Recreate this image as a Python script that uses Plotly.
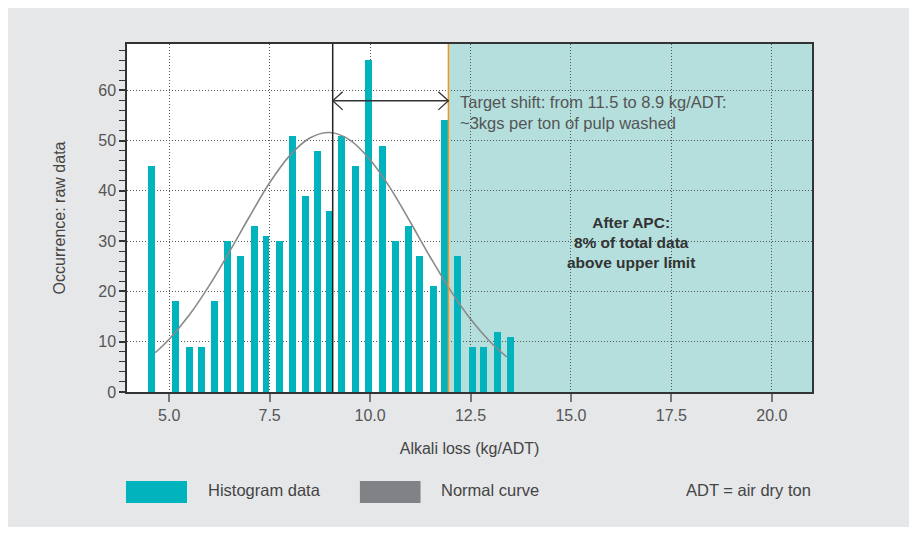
import plotly.graph_objects as go

# ---------------------------
# Datos
# ---------------------------
alkali_loss = [4.56, 5.16, 5.50, 5.80, 6.13, 6.45, 6.77, 7.12, 7.41, 7.74,
               8.07, 8.39, 8.69, 8.99, 9.29, 9.63, 9.96, 10.31, 10.63, 10.95,
               11.23, 11.57, 11.85, 12.18, 12.54, 12.82, 13.17, 13.49]
occurrence = [45, 18, 9, 9, 18, 30, 27, 33, 31, 30,
              51, 39, 48, 36, 51, 45, 66, 49, 30, 33,
              27, 21, 54, 27, 9, 9, 12, 11]

curve_x = [4.65, 5.0, 5.5, 6.0, 6.5, 7.0, 7.5, 8.0, 8.5, 9.0,
           9.5, 10.0, 10.5, 11.0, 11.5, 12.0, 12.5, 13.0, 13.4]
curve_y = [7.8, 10.5, 15.3, 21.2, 27.9, 34.9, 41.6, 47.0, 50.5, 51.6,
           50.1, 46.2, 40.6, 33.8, 26.8, 20.2, 14.5, 9.9, 7.0]

target_line = 9.07   # línea negra (objetivo)
upper_limit = 11.95  # línea naranja (límite superior)
x_max = 21.0
arrow_y = 57.9

x_ticks = [5.0, 7.5, 10.0, 12.5, 15.0, 17.5, 20.0]

TEAL = "#00b3bc"
SHADE = "#b4dfdd"
GREY_BG = "#e6e7e9"
FONT = "Liberation Sans"

fig = go.Figure()

fig.add_trace(go.Bar(
    x=alkali_loss, y=occurrence, width=0.17,
    marker=dict(color=TEAL, line=dict(width=0)),
    showlegend=False, hoverinfo="x+y",
))
fig.add_trace(go.Scatter(
    x=curve_x, y=curve_y, mode="lines", line_shape="spline",
    line=dict(color="#8a8a8a", width=1.6),
    showlegend=False, hoverinfo="skip",
))

# Fondo gris, área blanca y zona sombreada
shapes = [
    dict(type="rect", xref="paper", yref="paper", x0=-0.3, x1=1.3,
         y0=-0.388, y1=1.3, fillcolor=GREY_BG, line_width=0, layer="below"),
    dict(type="rect", xref="paper", yref="paper", x0=0, x1=1, y0=0, y1=1,
         fillcolor="white", line_width=0, layer="below"),
    dict(type="rect", xref="x", yref="paper", x0=upper_limit, x1=x_max,
         y0=0, y1=1, fillcolor=SHADE, line_width=0, layer="below"),
    dict(type="line", xref="x", yref="paper", x0=target_line, x1=target_line,
         y0=0, y1=1, line=dict(color="#222222", width=1.5)),
    dict(type="line", xref="x", yref="paper", x0=upper_limit, x1=upper_limit,
         y0=0, y1=1, line=dict(color="#f7941d", width=1.5)),
    # flecha doble
    dict(type="line", xref="x", yref="y", x0=target_line, x1=upper_limit,
         y0=arrow_y, y1=arrow_y, line=dict(color="#333333", width=1.5)),
    dict(type="path", xref="x", yref="y",
         path=f"M {target_line + 0.25},{arrow_y + 1.8} L {target_line},{arrow_y} L {target_line + 0.25},{arrow_y - 1.8}",
         line=dict(color="#333333", width=1.3)),
    dict(type="path", xref="x", yref="y",
         path=f"M {upper_limit - 0.25},{arrow_y + 1.8} L {upper_limit},{arrow_y} L {upper_limit - 0.25},{arrow_y - 1.8}",
         line=dict(color="#333333", width=1.3)),
    # leyenda
    dict(type="rect", xref="paper", yref="paper", x0=-0.0015, x1=0.0876,
         y0=-0.319, y1=-0.2557, fillcolor=TEAL, line_width=0),
    dict(type="rect", xref="paper", yref="paper", x0=0.340, x1=0.4285,
         y0=-0.319, y1=-0.2557, fillcolor="#808285", line_width=0),
]

annotations = [
    dict(x=12.2, y=59.8, xref="x", yref="y", xanchor="left", yanchor="top",
         align="left", showarrow=False,
         text="Target shift: from 11.5 to 8.9 kg/ADT:<br>~3kgs per ton of pulp washed",
         font=dict(family=FONT, size=16.5, color="#555555")),
    dict(x=16.5, y=29.8, xref="x", yref="y", xanchor="center", yanchor="middle",
         align="center", showarrow=False,
         text="<b>After APC:<br>8% of total data<br>above upper limit</b>",
         font=dict(family=FONT, size=15.5, color="#333333")),
    dict(x=0.115, y=-0.2815, xref="paper", yref="paper", xanchor="left",
         yanchor="middle", showarrow=False, text="Histogram data",
         font=dict(family=FONT, size=16.5, color="#444444")),
    dict(x=0.4555, y=-0.2815, xref="paper", yref="paper", xanchor="left",
         yanchor="middle", showarrow=False, text="Normal curve",
         font=dict(family=FONT, size=16.5, color="#444444")),
    dict(x=1.0015, y=-0.2815, xref="paper", yref="paper", xanchor="right",
         yanchor="middle", showarrow=False, text="ADT = air dry ton",
         font=dict(family=FONT, size=16.5, color="#444444")),
]

# la página añade 8 px de margen: figura de 909x526
fig.update_layout(
    width=909, height=526,
    margin=dict(l=119, r=105, t=36, b=142),
    paper_bgcolor="white", plot_bgcolor="rgba(0,0,0,0)",
    font=dict(family=FONT, size=16, color="#555555"),
    shapes=shapes, annotations=annotations,
    bargap=0,
)

fig.update_xaxes(
    range=[3.95, x_max], tickvals=x_ticks, ticktext=[f"{v:.1f}" for v in x_ticks],
    showgrid=True, gridcolor="#555555", griddash="1px,2px", gridwidth=1,
    showline=True, linecolor="#333333", linewidth=1.5, mirror=True,
    ticks="outside", ticklen=8, tickcolor="#777777", tickwidth=1.5,
    zeroline=False,
    title=dict(text="Alkali loss (kg/ADT)", standoff=20,
               font=dict(family=FONT, size=16, color="#444444")),
)
fig.update_yaxes(
    range=[0, 69.2], tickvals=[0, 10, 20, 30, 40, 50, 60],
    showgrid=True, gridcolor="#555555", griddash="1px,2px", gridwidth=1,
    showline=True, linecolor="#333333", linewidth=1.5, mirror=True,
    ticks="outside", ticklen=6, tickcolor="#333333", tickwidth=1.5,
    minor=dict(dtick=2, ticks="outside", ticklen=6, tickcolor="#333333",
               tickwidth=1.2, showgrid=False),
    zeroline=False,
    title=dict(text="Occurrence: raw data", standoff=29,
               font=dict(family=FONT, size=16, color="#444444")),
)

fig.write_html("out.html")
